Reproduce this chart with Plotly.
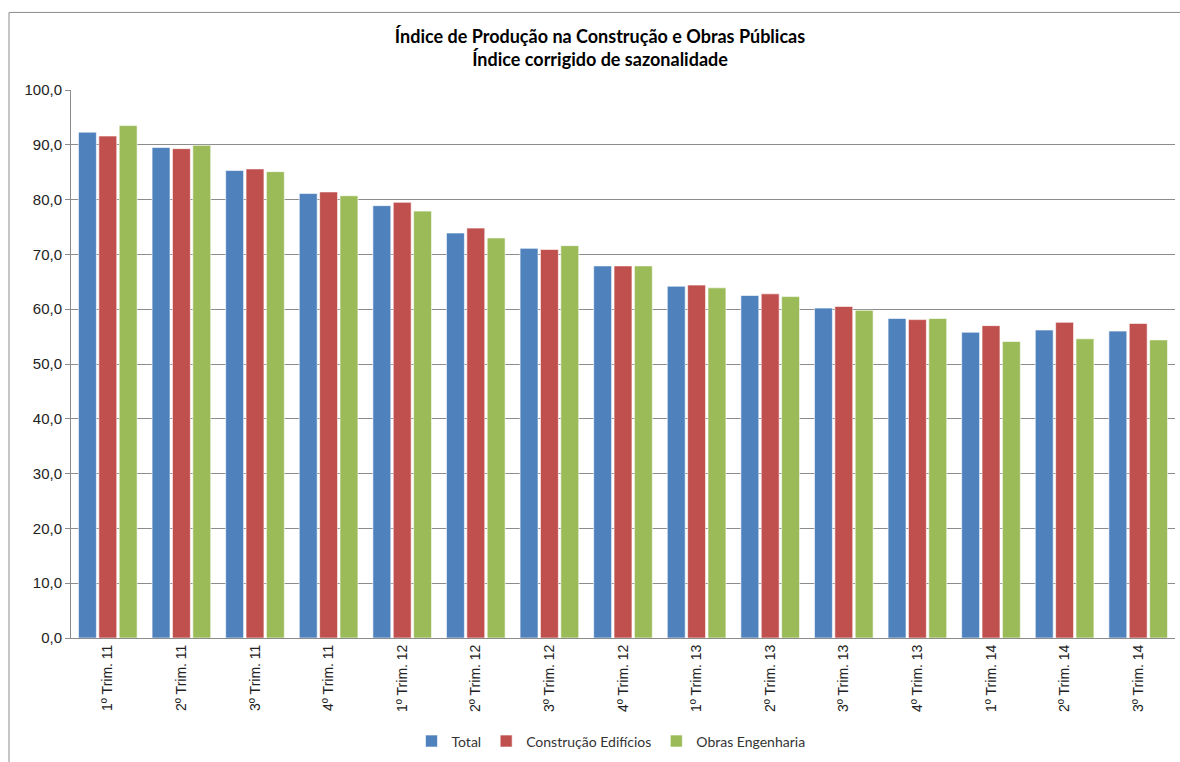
import plotly.graph_objects as go

categories = ["1º Trim. 11", "2º Trim. 11", "3º Trim. 11", "4º Trim. 11",
              "1º Trim. 12", "2º Trim. 12", "3º Trim. 12", "4º Trim. 12",
              "1º Trim. 13", "2º Trim. 13", "3º Trim. 13", "4º Trim. 13",
              "1º Trim. 14", "2º Trim. 14", "3º Trim. 14"]
total = [92.3, 89.5, 85.3, 81.1, 78.9, 73.9, 71.1, 67.9, 64.2, 62.5, 60.2, 58.3, 55.8, 56.2, 56.0]
construcao = [91.6, 89.3, 85.6, 81.4, 79.5, 74.8, 70.9, 67.9, 64.4, 62.8, 60.5, 58.1, 57.0, 57.6, 57.4]
obras = [93.5, 89.9, 85.1, 80.7, 77.9, 73.0, 71.6, 67.9, 63.9, 62.3, 59.8, 58.3, 54.1, 54.6, 54.4]
yticks = [0, 10, 20, 30, 40, 50, 60, 70, 80, 90, 100]

series = [("Total", total, "#4F81BD"),
          ("Construção Edifícios", construcao, "#C0504D"),
          ("Obras Engenharia", obras, "#9BBB59")]

fig = go.Figure()
for name, vals, col in series:
    fig.add_trace(go.Bar(x=categories, y=vals, name=name,
                         marker=dict(color=col, line=dict(color="rgba(255,255,255,0.6)", width=1))))

L, R, T, B = 71, 5, 90, 121
W, H = 1180, 762
pw, ph = W - L - R, H - T - B

fig.update_layout(
    width=W, height=H,
    margin=dict(l=L, r=R, t=T, b=B),
    separators=",.",
    paper_bgcolor="white", plot_bgcolor="white",
    barmode="group", bargap=0.17, bargroupgap=0.12,
    font=dict(family="Liberation Sans, Arial, sans-serif", color="#222"),
    title=dict(text="<b>Índice de Produção na Construção e Obras Públicas<br>Índice corrigido de sazonalidade</b>",
               x=600 / W, xref="container", xanchor="center", y=1 - 43 / H, yanchor="top",
               font=dict(family="Lato, Open Sans, sans-serif", size=18, color="#000")),
    legend=dict(orientation="h", x=(611 - L) / pw, xanchor="center", y=-(745 - (H - B)) / ph, yanchor="middle",
                font=dict(family="Lato, Open Sans, sans-serif", size=14, color="#333"),
                bgcolor="rgba(0,0,0,0)", itemwidth=30, traceorder="normal"),
    showlegend=True,
)
fig.update_yaxes(range=[0, 100], tickvals=yticks, tickformat=".1f",
                 showgrid=True, gridcolor="#8C8C8C", gridwidth=1,
                 showline=True, linecolor="#8C8C8C", linewidth=1,
                 ticks="outside", ticklen=5, tickcolor="#8C8C8C",
                 tickfont=dict(size=15, color="#222"), zeroline=False)
fig.update_xaxes(type="category", tickangle=-90, showline=True, linecolor="#8C8C8C", linewidth=1,
                 ticks="", tickfont=dict(size=14, color="#222"))

# outer chart border (left and top edges visible)
fig.add_shape(type="rect", xref="paper", yref="paper",
              x0=(9 - L) / pw, x1=(1200 - L) / pw,
              y0=-(780 - (H - B)) / ph, y1=1 + (T - 12) / ph,
              line=dict(color="#8C8C8C", width=1), fillcolor="rgba(0,0,0,0)", layer="below")

fig.write_html("out.html")
